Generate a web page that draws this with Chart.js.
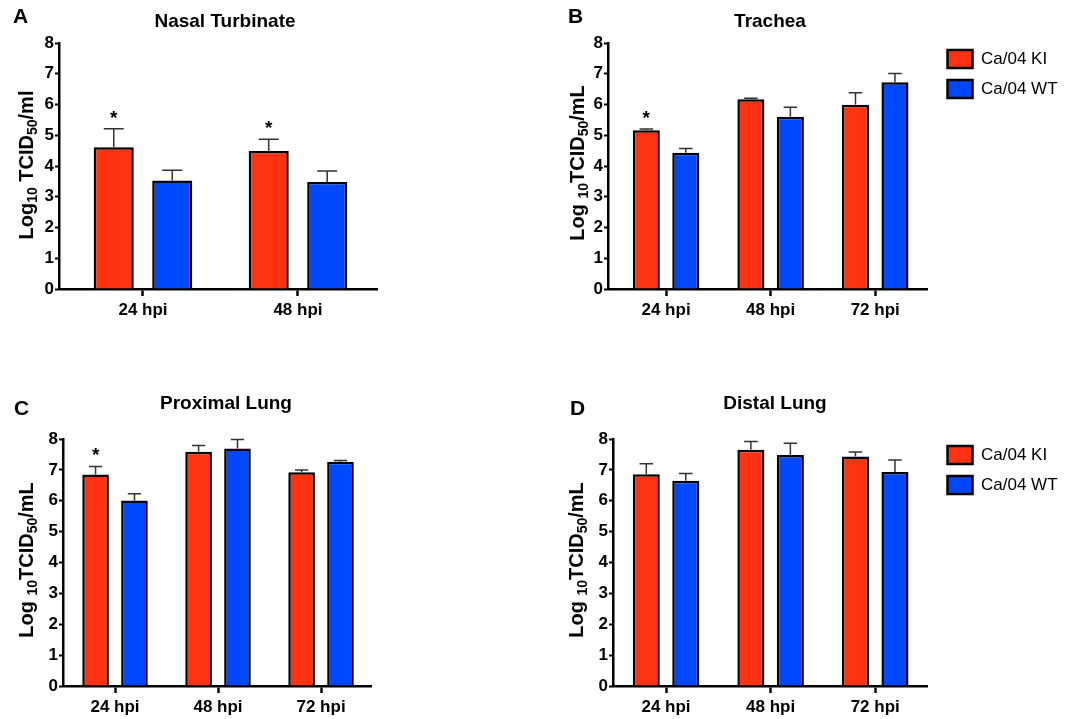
<!DOCTYPE html>
<html lang="en">
<head>
<meta charset="UTF-8">
<title>Ca/04 KI vs Ca/04 WT titers</title>
<script src="https://cdn.jsdelivr.net/npm/chart.js"></script>
<style>
  html, body { margin: 0; padding: 0; background: #ffffff; }
  body { width: 1069px; height: 719px; position: relative; overflow: hidden; }
  canvas.panel { position: absolute; }
</style>
</head>
<body>
<canvas id="nasal" class="panel"></canvas>
<canvas id="trachea" class="panel"></canvas>
<canvas id="proximal" class="panel"></canvas>
<canvas id="distal" class="panel"></canvas>

<script>
// --- data ---
const hpi2 = ['24 hpi', '48 hpi'];
const hpi3 = ['24 hpi', '48 hpi', '72 hpi'];
const yTicks = [0, 1, 2, 3, 4, 5, 6, 7, 8];
const seriesNames = ['Ca/04 KI', 'Ca/04 WT'];

const nasalKI = [4.61, 4.49];
const nasalKIErr = [0.60, 0.38];
const nasalWT = [3.53, 3.48];
const nasalWTErr = [0.33, 0.36];
const nasalStars = [true, true];

const tracheaKI = [5.16, 6.17, 5.99];
const tracheaKIErr = [0.04, 0.03, 0.39];
const tracheaWT = [4.43, 5.60, 6.72];
const tracheaWTErr = [0.14, 0.31, 0.29];
const tracheaStars = [true, false, false];

const proxKI = [6.85, 7.59, 6.92];
const proxKIErr = [0.26, 0.20, 0.08];
const proxWT = [6.01, 7.69, 7.26];
const proxWTErr = [0.22, 0.29, 0.04];
const proxStars = [true, false, false];

const distKI = [6.86, 7.65, 7.43];
const distKIErr = [0.34, 0.27, 0.15];
const distWT = [6.65, 7.48, 6.93];
const distWTErr = [0.23, 0.38, 0.39];
const distStars = [false, false, false];

// --- look ---
const TEXT_FONT = "'Liberation Sans', Arial, sans-serif";
const KI_RED = '#ff3311';
const WT_BLUE = '#0048ff';
const LEGEND_SIZE = 17;

const yTitleA = [['Log'], ['10', 1], [' TCID'], ['50', 1], ['/ml']];
const yTitleB = [['Log '], ['10', 1], ['TCID'], ['50', 1], ['/mL']];

const panels = [
  { id: 'nasal', letter: 'A', title: 'Nasal Turbinate', cats: hpi2,
    ki: nasalKI, kiErr: nasalKIErr, wt: nasalWT, wtErr: nasalWTErr, stars: nasalStars,
    yTitle: yTitleA, legend: false,
    box: { x: 0, y: 0, w: 450, h: 340 }, area: { l: 59, t: 43, r: 377, b: 289 }, xRange: [-0.542, 1.51],
    letterAt: [13, 23], titleAt: [225, 27], yTitleAt: [27, 165] },
  { id: 'trachea', letter: 'B', title: 'Trachea', cats: hpi3,
    ki: tracheaKI, kiErr: tracheaKIErr, wt: tracheaWT, wtErr: tracheaWTErr, stars: tracheaStars,
    yTitle: yTitleB, legend: true,
    box: { x: 560, y: 0, w: 509, h: 340 }, area: { l: 608, t: 43, r: 927, b: 289 }, xRange: [-0.555, 2.5],
    letterAt: [568, 23], titleAt: [770, 27], yTitleAt: [578, 163] },
  { id: 'proximal', letter: 'C', title: 'Proximal Lung', cats: hpi3,
    ki: proxKI, kiErr: proxKIErr, wt: proxWT, wtErr: proxWTErr, stars: proxStars,
    yTitle: yTitleB, legend: false,
    box: { x: 0, y: 370, w: 450, h: 349 }, area: { l: 63, t: 439, r: 371, b: 686 }, xRange: [-0.505, 2.485],
    letterAt: [14, 415], titleAt: [226, 409], yTitleAt: [27, 560] },
  { id: 'distal', letter: 'D', title: 'Distal Lung', cats: hpi3,
    ki: distKI, kiErr: distKIErr, wt: distWT, wtErr: distWTErr, stars: distStars,
    yTitle: yTitleB, legend: true,
    box: { x: 560, y: 370, w: 509, h: 349 }, area: { l: 613, t: 439, r: 927, b: 686 }, xRange: [-0.507, 2.5],
    letterAt: [570, 415], titleAt: [775, 409], yTitleAt: [577, 560] }
];

// legend width roughly as Chart.js ends up with it (padding + box + gap + text)
const measure = document.createElement('canvas').getContext('2d');
measure.font = LEGEND_SIZE + 'px ' + TEXT_FONT;
const legendText = Math.max(...seriesNames.map(s => measure.measureText(s).width));
const legendW = 12 + 25 + LEGEND_SIZE / 2 + legendText + 1;

// error bars, asterisks, panel letter, title and the y title with subscripts
const decor = {
  id: 'decor',
  afterLayout(chart) {
    const lg = chart.legend;
    if (chart.options.plugins.legend.display) {
      // push the legend a little away from the plot, like the original
      const dx = chart.chartArea.right + 8 - lg.left;
      lg.left += dx; lg.right += dx + 20;
      lg.top -= 5; lg.bottom -= 5;
    }
  },
  afterDatasetsDraw(chart) {
    const ctx = chart.ctx;
    const yScale = chart.scales.y;
    chart.data.datasets.forEach((ds, di) => {
      chart.getDatasetMeta(di).data.forEach((bar, i) => {
        const top = yScale.getPixelForValue(ds.data[i].y + ds.errors[i]);
        const half = bar.width / 4;
        ctx.save();
        ctx.strokeStyle = '#333';
        ctx.lineWidth = 1.5;
        ctx.beginPath();
        ctx.moveTo(bar.x, bar.y);
        ctx.lineTo(bar.x, top);
        ctx.moveTo(bar.x - half, top);
        ctx.lineTo(bar.x + half, top);
        ctx.stroke();
        if (ds.stars && ds.stars[i]) {
          ctx.fillStyle = '#000';
          ctx.font = 'bold 19px ' + TEXT_FONT;
          ctx.textAlign = 'center';
          ctx.textBaseline = 'alphabetic';
          ctx.fillText('*', bar.x, top - 5);
        }
        ctx.restore();
      });
    });
  },
  afterDraw(chart) {
    const o = chart.options.plugins.decor;
    const ctx = chart.ctx;
    ctx.save();
    ctx.fillStyle = '#000';
    ctx.textBaseline = 'alphabetic';
    ctx.font = 'bold 21px ' + TEXT_FONT;
    ctx.textAlign = 'left';
    ctx.fillText(o.letter, o.letterAt[0], o.letterAt[1]);
    ctx.font = 'bold 19px ' + TEXT_FONT;
    ctx.textAlign = 'center';
    ctx.fillText(o.title, o.titleAt[0], o.titleAt[1]);

    // rotated axis title
    const main = 'bold 20px ' + TEXT_FONT;
    const sub = 'bold 14px ' + TEXT_FONT;
    let total = 0;
    o.yTitle.forEach(p => { ctx.font = p[1] ? sub : main; total += ctx.measureText(p[0]).width; });
    ctx.translate(o.yTitleAt[0], o.yTitleAt[1]);
    ctx.rotate(-Math.PI / 2);
    ctx.textAlign = 'left';
    ctx.textBaseline = 'middle';
    let x = -total / 2;
    o.yTitle.forEach(p => {
      ctx.font = p[1] ? sub : main;
      ctx.fillText(p[0], x, p[1] ? 6 : 0);
      x += ctx.measureText(p[0]).width;
    });
    ctx.restore();
  }
};

panels.forEach(p => {
  const cv = document.getElementById(p.id);
  cv.width = p.box.w;
  cv.height = p.box.h;
  cv.style.left = p.box.x + 'px';
  cv.style.top = p.box.y + 'px';

  const rightPad = p.box.x + p.box.w - p.area.r - (p.legend ? legendW : 0);
  const toPoints = arr => arr.map((v, i) => ({ x: i, y: v }));

  new Chart(cv, {
    type: 'bar',
    data: {
      datasets: [
        { label: seriesNames[0], data: toPoints(p.ki), errors: p.kiErr, stars: p.stars,
          backgroundColor: KI_RED, borderColor: '#000', borderWidth: 2.5 },
        { label: seriesNames[1], data: toPoints(p.wt), errors: p.wtErr,
          backgroundColor: WT_BLUE, borderColor: '#000', borderWidth: 2.5 }
      ]
    },
    options: {
      responsive: false,
      animation: false,
      categoryPercentage: 0.755,
      barPercentage: 0.685,
      layout: { padding: { top: p.area.t - p.box.y, left: 0, right: rightPad, bottom: 0 } },
      plugins: {
        legend: {
          display: p.legend,
          position: 'right',
          align: 'start',
          labels: {
            boxWidth: 25, boxHeight: 18, padding: 12, color: '#000',
            font: { family: TEXT_FONT, size: LEGEND_SIZE }
          }
        },
        tooltip: { enabled: false },
        decor: {
          letter: p.letter, title: p.title, yTitle: p.yTitle,
          letterAt: [p.letterAt[0] - p.box.x, p.letterAt[1] - p.box.y],
          titleAt: [p.titleAt[0] - p.box.x, p.titleAt[1] - p.box.y],
          yTitleAt: [p.yTitleAt[0] - p.box.x, p.yTitleAt[1] - p.box.y]
        }
      },
      scales: {
        x: {
          type: 'linear',
          min: p.xRange[0],
          max: p.xRange[1],
          offset: false,
          afterFit: s => { s.height = p.box.y + p.box.h - p.area.b; },
          afterBuildTicks: s => { s.ticks = p.cats.map((c, i) => ({ value: i })); },
          ticks: {
            callback: v => p.cats[v],
            color: '#000', padding: 4, maxRotation: 0, autoSkip: false,
            font: { family: TEXT_FONT, size: 17, weight: 'bold' }
          },
          grid: { offset: false, drawOnChartArea: false, drawTicks: true, tickLength: 7, tickColor: '#000', tickWidth: 2.5 },
          border: { display: true, color: '#000', width: 2.5 }
        },
        y: {
          min: 0,
          max: 8,
          afterFit: s => { s.width = p.area.l - p.box.x; },
          afterBuildTicks: s => { s.ticks = yTicks.map(v => ({ value: v })); },
          ticks: {
            color: '#000', padding: 1,
            font: { family: TEXT_FONT, size: 17, weight: 'bold' }
          },
          grid: { drawOnChartArea: false, drawTicks: true, tickLength: 4, tickColor: '#000', tickWidth: 2 },
          border: { display: true, color: '#000', width: 2.5 }
        }
      }
    },
    plugins: [decor]
  });
});
</script>
</body>
</html>
